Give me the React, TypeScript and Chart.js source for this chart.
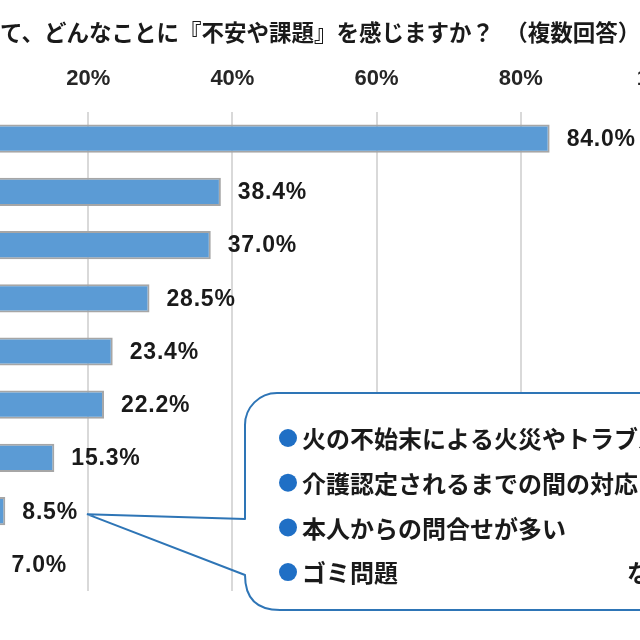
import React, { useEffect, useRef } from "react";
import { Chart, registerables } from "chart.js";

Chart.register(...registerables);

const categories = ["項目1", "項目2", "項目3", "項目4", "項目5", "項目6", "項目7", "項目8", "項目9"];
const values = [84.0, 38.4, 37.0, 28.5, 23.4, 22.2, 15.3, 8.5, 7.0];
const tickValues = [0, 20, 40, 60, 80, 100];
const titleText = "て、どんなことに『不安や課題』を感じますか？　（複数回答）";
const calloutItems = [
  "火の不始末による火災やトラブル",
  "介護認定されるまでの間の対応",
  "本人からの問合せが多い",
  "ゴミ問題",
];
const calloutTail = "など";
const calloutIndex = 7;

const OX = 100; // canvas is shifted left by this much (cropped view)
const CW = 840;
const CH = 640;
const JP = '"Noto Sans CJK JP", "Noto Sans", sans-serif';
const NUM = '"Liberation Sans", Arial, sans-serif';

export default function App() {
  const ref = useRef<HTMLCanvasElement | null>(null);

  useEffect(() => {
    if (!ref.current) return;

    const titlePlugin = {
      id: "titleText",
      afterDraw(chart: any) {
        const ctx = chart.ctx;
        ctx.save();
        ctx.font = `bold 22.5px ${JP}`;
        ctx.fillStyle = "#1a1a1a";
        ctx.textAlign = "left";
        ctx.textBaseline = "middle";
        ctx.fillText(titleText, OX, 32);
        ctx.restore();
      },
    };

    const labelPlugin = {
      id: "valueLabels",
      afterDatasetsDraw(chart: any) {
        const ctx = chart.ctx;
        const meta = chart.getDatasetMeta(0);
        ctx.save();
        ctx.font = `bold 23px ${NUM}`;
        (ctx as any).letterSpacing = "0.8px";
        ctx.fillStyle = "#1a1a1a";
        ctx.textAlign = "left";
        ctx.textBaseline = "middle";
        meta.data.forEach((el: any, i: number) => {
          ctx.fillText(values[i].toFixed(1) + "%", el.x + 17, el.y + 1);
        });
        ctx.restore();
      },
    };

    const calloutPlugin = {
      id: "callout",
      afterDraw(chart: any) {
        const ctx = chart.ctx;
        const el: any = chart.getDatasetMeta(0).data[calloutIndex];
        ctx.save();
        ctx.font = `bold 23px ${NUM}`;
        (ctx as any).letterSpacing = "0.8px";
        const tw = ctx.measureText(values[calloutIndex].toFixed(1) + "%").width;
        (ctx as any).letterSpacing = "0px";
        const tipX = el.x + 17 + tw + 9;
        const tipY = el.y + 3;
        const L = OX + 245;
        const T = 393;
        const B = 610;
        const R = OX + 720;
        const r = 32;
        const joinTop = 519;
        const joinBot = B - r - 3;

        // fill box
        ctx.beginPath();
        ctx.moveTo(L + r, T);
        ctx.lineTo(R, T);
        ctx.lineTo(R, B);
        ctx.lineTo(L + r, B);
        ctx.arcTo(L, B, L, B - r, r);
        ctx.lineTo(L, T + r);
        ctx.arcTo(L, T, L + r, T, r);
        ctx.closePath();
        ctx.fillStyle = "#ffffff";
        ctx.fill();

        // outline with pointer
        ctx.beginPath();
        ctx.moveTo(tipX, tipY);
        ctx.lineTo(L, joinTop);
        ctx.lineTo(L, T + r);
        ctx.arcTo(L, T, L + r, T, r);
        ctx.lineTo(R, T);
        ctx.moveTo(R, B);
        ctx.lineTo(L + r + 3, B);
        ctx.quadraticCurveTo(L, B, L, joinBot);
        ctx.lineTo(tipX, tipY);
        ctx.strokeStyle = "#2e75b6";
        ctx.lineWidth = 2;
        ctx.lineJoin = "round";
        ctx.stroke();

        // items
        ctx.font = `bold 24px ${JP}`;
        ctx.textAlign = "left";
        ctx.textBaseline = "middle";
        calloutItems.forEach((t, i) => {
          const y = 438 + i * 44.7;
          ctx.beginPath();
          ctx.arc(OX + 288, y, 9, 0, Math.PI * 2);
          ctx.fillStyle = "#1f6fc5";
          ctx.fill();
          ctx.fillStyle = "#1a1a1a";
          ctx.fillText(t, OX + 302, y + 1);
        });
        ctx.fillText(calloutTail, OX + 627, 438 + 3 * 44.7 + 1);
        ctx.restore();
      },
    };

    const chart = new Chart(ref.current, {
      type: "bar",
      data: {
        labels: categories,
        datasets: [
          {
            data: values,
            backgroundColor: "#5b9bd5",
            borderColor: "#a6a6a6",
            borderWidth: 2,
            borderSkipped: false,
            categoryPercentage: 1,
            barPercentage: 0.53,
          },
        ],
      },
      options: {
        indexAxis: "y",
        responsive: false,
        animation: false,
        layout: { padding: { left: 44, right: 75, top: 0, bottom: 49 } },
        plugins: {
          legend: { display: false },
          title: { display: false },
          tooltip: { enabled: false },
        },
        scales: {
          y: { display: false },
          x: {
            position: "top",
            min: 0,
            max: 100,
            afterFit: (s: any) => {
              s.height = 112;
            },
            afterBuildTicks: (s: any) => {
              s.ticks = tickValues.map((v) => ({ value: v }));
            },
            ticks: {
              stepSize: 20,
              padding: 20,
              color: "#262626",
              font: { family: NUM, size: 22, weight: "bold" },
              callback: (v: any) => v + "%",
            },
            grid: { color: "#d9d9d9", lineWidth: 2, drawTicks: false },
            border: { display: false },
          },
        },
      },
      plugins: [titlePlugin, labelPlugin, calloutPlugin],
    });

    return () => chart.destroy();
  }, []);

  return (
    <div
      style={{
        position: "fixed",
        left: 0,
        top: 0,
        width: 640,
        height: 640,
        overflow: "hidden",
        background: "#ffffff",
      }}
    >
      <canvas
        ref={ref}
        width={CW}
        height={CH}
        style={{ position: "absolute", left: -OX, top: 0, width: CW, height: CH }}
      />
    </div>
  );
}
